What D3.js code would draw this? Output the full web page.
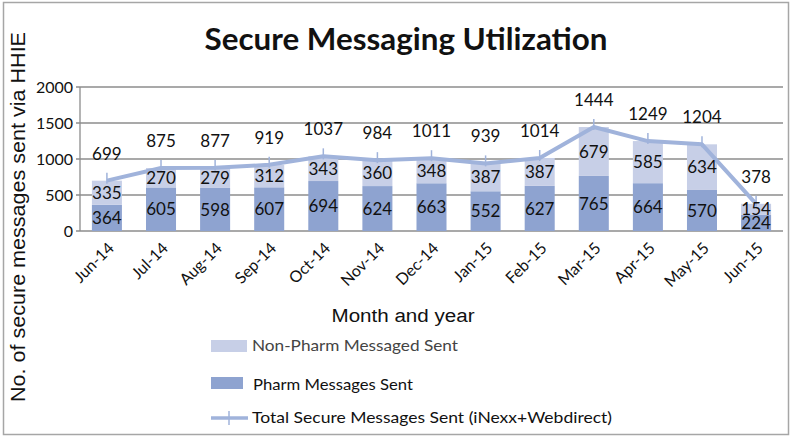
<!DOCTYPE html>
<html>
<head>
  <title>Secure Messaging Utilization</title>
  <script src="https://cdn.jsdelivr.net/npm/d3@7"></script>
  <style>
    body { margin: 0; background: #fff; }
    svg text { fill: #111; }
  </style>
</head>
<body>
  <svg id="chart" width="800" height="438"></svg>

  <script>
    // Data
    const months = ['Jun-14', 'Jul-14', 'Aug-14', 'Sep-14', 'Oct-14', 'Nov-14', 'Dec-14',
                    'Jan-15', 'Feb-15', 'Mar-15', 'Apr-15', 'May-15', 'Jun-15'];
    const pharm = [364, 605, 598, 607, 694, 624, 663, 552, 627, 765, 664, 570, 224];
    const nonPharm = [335, 270, 279, 312, 343, 360, 348, 387, 387, 679, 585, 634, 154];
    const total = [699, 875, 877, 919, 1037, 984, 1011, 939, 1014, 1444, 1249, 1204, 378];
    const yTicks = [0, 500, 1000, 1500, 2000];

    const darkBlue = '#8ea3d0';
    const lightBlue = '#c7cfe7';
    const lineBlue = '#a0b3db';
    const gridGray = '#8c8c8c';
    const calibri = 'Lato, "Open Sans", sans-serif';
    const arial = '"Liberation Sans", Arial, sans-serif';

    const svg = d3.select('#chart');

    // outer frame
    svg.append('rect')
      .attr('x', 3.5).attr('y', 2.5)
      .attr('width', 785).attr('height', 432)
      .attr('fill', 'none')
      .attr('stroke', '#a6a6a6')
      .attr('stroke-width', 1.5);

    const plot = { left: 80, right: 783, top: 87, bottom: 231 };

    const x = d3.scaleBand()
      .domain(months)
      .range([plot.left, plot.right])
      .paddingInner(0.445)
      .paddingOuter(0.22);

    const y = d3.scaleLinear()
      .domain([0, 2000])
      .range([plot.bottom, plot.top]);

    // grid lines
    svg.append('g')
      .selectAll('line')
      .data(yTicks)
      .join('line')
      .attr('x1', plot.left - 4)
      .attr('x2', plot.right)
      .attr('y1', d => y(d))
      .attr('y2', d => y(d))
      .attr('stroke', gridGray)
      .attr('stroke-width', 1.3);

    // y axis line
    svg.append('line')
      .attr('x1', plot.left).attr('x2', plot.left)
      .attr('y1', plot.top).attr('y2', plot.bottom)
      .attr('stroke', gridGray)
      .attr('stroke-width', 1.3);

    // y tick labels
    svg.append('g')
      .selectAll('text')
      .data(yTicks)
      .join('text')
      .attr('x', plot.left - 7)
      .attr('y', d => y(d))
      .attr('dy', '0.36em')
      .attr('text-anchor', 'end')
      .style('font-family', calibri)
      .style('font-size', '16px')
      .text(d => d);

    // stacked bars
    const bars = svg.append('g');
    bars.selectAll('.pharm')
      .data(months)
      .join('rect')
      .attr('class', 'pharm')
      .attr('x', d => x(d))
      .attr('width', x.bandwidth())
      .attr('y', (d, i) => y(pharm[i]))
      .attr('height', (d, i) => y(0) - y(pharm[i]))
      .attr('fill', darkBlue);

    bars.selectAll('.nonpharm')
      .data(months)
      .join('rect')
      .attr('class', 'nonpharm')
      .attr('x', d => x(d))
      .attr('width', x.bandwidth())
      .attr('y', (d, i) => y(pharm[i] + nonPharm[i]))
      .attr('height', (d, i) => y(pharm[i]) - y(pharm[i] + nonPharm[i]))
      .attr('fill', lightBlue);

    // total line
    const cx = d => x(d) + x.bandwidth() / 2;
    const line = d3.line()
      .x((d, i) => cx(months[i]))
      .y(d => y(d));

    svg.append('path')
      .datum(total)
      .attr('d', line)
      .attr('fill', 'none')
      .attr('stroke', lineBlue)
      .attr('stroke-width', 4)
      .attr('stroke-linejoin', 'round');

    svg.append('g')
      .selectAll('line')
      .data(total)
      .join('line')
      .attr('x1', (d, i) => cx(months[i]))
      .attr('x2', (d, i) => cx(months[i]))
      .attr('y1', d => y(d) - 8)
      .attr('y2', d => y(d) + 3)
      .attr('stroke', lineBlue)
      .attr('stroke-width', 1.5);

    // data labels
    const labels = svg.append('g')
      .style('font-family', calibri)
      .style('font-size', '17px')
      .attr('text-anchor', 'middle');

    labels.selectAll('.lp')
      .data(pharm)
      .join('text')
      .attr('x', (d, i) => cx(months[i]))
      .attr('y', d => (y(0) + y(d)) / 2)
      .attr('dy', '0.36em')
      .text(d => d);

    labels.selectAll('.ln')
      .data(nonPharm)
      .join('text')
      .attr('x', (d, i) => cx(months[i]))
      .attr('y', (d, i) => (y(pharm[i]) + y(pharm[i] + d)) / 2)
      .attr('dy', '0.36em')
      .text(d => d);

    labels.selectAll('.lt')
      .data(total)
      .join('text')
      .attr('x', (d, i) => cx(months[i]))
      .attr('y', d => y(d) - 21)
      .text(d => d);

    // x tick labels
    svg.append('g')
      .selectAll('text')
      .data(months)
      .join('text')
      .attr('transform', d => `translate(${cx(d) + 4},${plot.bottom + 14}) rotate(-45)`)
      .attr('text-anchor', 'end')
      .attr('dy', '0.36em')
      .style('font-family', calibri)
      .style('font-size', '16px')
      .text(d => d);

    // titles
    svg.append('text')
      .attr('x', 406).attr('y', 50)
      .attr('text-anchor', 'middle')
      .style('font-family', calibri)
      .style('font-weight', 'bold')
      .style('font-size', '30px')
      .attr('textLength', 403)
      .attr('lengthAdjust', 'spacingAndGlyphs')
      .text('Secure Messaging Utilization');

    svg.append('text')
      .attr('transform', 'translate(25,217) rotate(-90)')
      .attr('text-anchor', 'middle')
      .style('font-family', arial)
      .style('font-size', '21px')
      .attr('textLength', 370)
      .attr('lengthAdjust', 'spacingAndGlyphs')
      .text('No. of secure messages sent via HHIE');

    svg.append('text')
      .attr('x', 403).attr('y', 322)
      .attr('text-anchor', 'middle')
      .style('font-family', arial)
      .style('font-size', '18px')
      .attr('textLength', 143)
      .attr('lengthAdjust', 'spacingAndGlyphs')
      .text('Month and year');

    // legend
    const legend = svg.append('g')
      .style('font-family', calibri)
      .style('font-size', '16px');

    legend.append('rect')
      .attr('x', 211).attr('y', 340).attr('width', 36).attr('height', 12)
      .attr('fill', lightBlue);
    legend.append('text')
      .attr('x', 252).attr('y', 351)
      .style('fill', '#444')
      .attr('textLength', 206)
      .attr('lengthAdjust', 'spacingAndGlyphs')
      .text('Non-Pharm Messaged Sent');

    legend.append('rect')
      .attr('x', 211).attr('y', 377).attr('width', 32).attr('height', 12)
      .attr('fill', darkBlue);
    legend.append('text')
      .attr('x', 253).attr('y', 390)
      .attr('textLength', 160)
      .attr('lengthAdjust', 'spacingAndGlyphs')
      .text('Pharm Messages Sent');

    legend.append('line')
      .attr('x1', 211).attr('x2', 248).attr('y1', 418).attr('y2', 418)
      .attr('stroke', lineBlue).attr('stroke-width', 3.5);
    legend.append('line')
      .attr('x1', 229).attr('x2', 229).attr('y1', 411).attr('y2', 425)
      .attr('stroke', lineBlue).attr('stroke-width', 1.5);
    legend.append('text')
      .attr('x', 252).attr('y', 423)
      .attr('textLength', 360)
      .attr('lengthAdjust', 'spacingAndGlyphs')
      .text('Total Secure Messages Sent (iNexx+Webdirect)');
  </script>
</body>
</html>
